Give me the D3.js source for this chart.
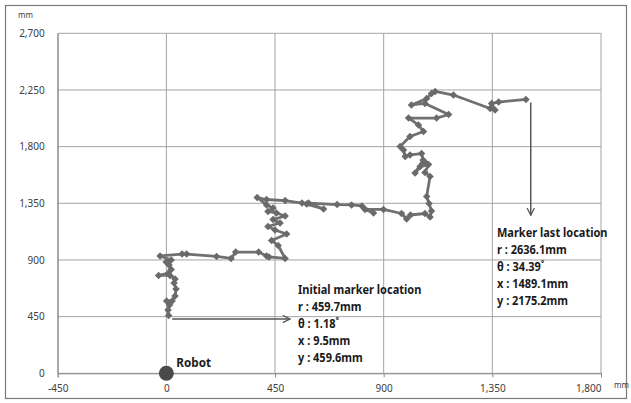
<!DOCTYPE html>
<html>
<head>
<meta charset="utf-8">
<script src="https://cdn.jsdelivr.net/npm/d3@7"></script>
<style>
    body { margin: 0; background: #fff; }
    text { font-family: "Noto Sans", sans-serif; }
</style>
</head>
<body>
<div id="chart-area"></div>
<script>
// marker path (mm)
const pathX = [9.5, 7, 13, 1, 24, 36, 40, 32, 36, 15, -32, 7, 20, 11, -1, 20, -26, 65, 84, 208,
    268, 287, 382, 415, 425, 492, 463, 436, 498, 450, 421, 471, 442, 492, 456, 421, 442, 415, 376, 415,
    492, 562, 581, 651, 589, 707, 767, 810, 858, 823, 899, 974, 995, 1011, 1071, 1092, 1098, 1088, 1078, 1092,
    1071, 1086, 1051, 1071, 1030, 1063, 1057, 1009, 989, 982, 968, 1009, 1065, 1044, 1003, 1119, 1169, 1071, 1015, 1078,
    1098, 1113, 1189, 1341, 1361, 1347, 1376, 1489.1];
const pathY = [459.6, 503, 542, 574, 574, 614, 669, 717, 749, 777, 777, 793, 824, 860, 884, 900, 932, 947, 947, 928,
    912, 963, 963, 932, 924, 912, 1015, 1055, 1106, 1138, 1166, 1194, 1221, 1249, 1273, 1285, 1313, 1337, 1396, 1380,
    1372, 1352, 1344, 1305, 1352, 1340, 1337, 1329, 1273, 1301, 1301, 1269, 1225, 1257, 1269, 1241, 1289, 1348, 1404, 1563,
    1595, 1658, 1642, 1678, 1591, 1694, 1745, 1734, 1722, 1773, 1801, 1880, 1920, 1972, 2027, 2027, 2055, 2143, 2131, 2182,
    2222, 2238, 2210, 2103, 2091, 2143, 2154, 2175.2];

const xTicks = [-450, 0, 450, 900, 1350, 1800];
const yTicks = [0, 450, 900, 1350, 1800, 2250, 2700];

const startLabel = ["Initial marker location", "r : 459.7mm", "θ : 1.18˚", "x : 9.5mm", "y : 459.6mm"];
const endLabel = ["Marker last location", "r : 2636.1mm", "θ : 34.39˚", "x : 1489.1mm", "y : 2175.2mm"];

// arrows: [x1, y1, x2, y2] in mm
const startArrow = [24, 431, 512, 431];
const endArrow = [1509, 2150, 1509, 1255];

// plain hyphen for negatives, like the original
const fmt = d => d3.format(",")(d).replace("−", "-");

const width = 631, height = 403;
const plot = { left: 57.7, right: 601, top: 33.3, bottom: 373.3 };

const svg = d3.select("#chart-area")
    .append("svg")
    .attr("width", width)
    .attr("height", height);

// outer frame
svg.append("rect")
    .attr("x", 5.5).attr("y", 5.5)
    .attr("width", 621).attr("height", 393)
    .style("fill", "none")
    .style("stroke", "#7a7a7a")
    .style("stroke-width", 1.2);

const xScale = d3.scaleLinear().domain([-450, 1800]).range([plot.left, plot.right]);
const yScale = d3.scaleLinear().domain([0, 2700]).range([plot.bottom, plot.top]);

// gridlines
svg.append("g")
    .selectAll("line")
    .data(xTicks)
    .enter()
    .append("line")
    .attr("x1", d => xScale(d)).attr("x2", d => xScale(d))
    .attr("y1", plot.top).attr("y2", plot.bottom)
    .style("stroke", "#a3a3a3");
svg.append("g")
    .selectAll("line")
    .data(yTicks)
    .enter()
    .append("line")
    .attr("x1", plot.left).attr("x2", plot.right)
    .attr("y1", d => yScale(d)).attr("y2", d => yScale(d))
    .style("stroke", "#a3a3a3");

// x axis
let xAxis = svg.append("g")
    .attr("transform", "translate(0," + plot.bottom + ")")
    .call(d3.axisBottom(xScale).tickValues(xTicks).tickFormat(fmt).tickSize(4).tickPadding(8));
xAxis.select(".domain").style("stroke", "#8a8a8a");
xAxis.selectAll(".tick line").style("stroke", "#8a8a8a");
xAxis.selectAll("text")
    .style("font-size", "10px")
    .style("fill", "#404040")
    .attr("text-anchor", d => d === 1800 ? "end" : "middle");

// y axis
let yAxis = svg.append("g")
    .attr("transform", "translate(" + plot.left + ",0)")
    .call(d3.axisLeft(yScale).tickValues(yTicks).tickFormat(fmt).tickSize(0).tickPadding(13));
yAxis.select(".domain").style("stroke", "#8a8a8a");
yAxis.selectAll("text")
    .style("font-size", "10px")
    .style("fill", "#404040");

// unit labels
svg.append("text")
    .attr("x", 18).attr("y", 18)
    .style("font-size", "8px")
    .style("fill", "#404040")
    .text("mm");
svg.append("text")
    .attr("x", 614).attr("y", 388)
    .style("font-size", "8px")
    .style("fill", "#404040")
    .text("mm");

// marker path
const points = pathX.map((x, i) => ({ x: x, y: pathY[i] }));
const line = d3.line()
    .x(d => xScale(d.x))
    .y(d => yScale(d.y));
svg.append("path")
    .datum(points)
    .attr("d", line)
    .style("fill", "none")
    .style("stroke", "#707070")
    .style("stroke-width", 2.8)
    .style("stroke-linejoin", "round");

const diamond = d3.symbol().type(d3.symbolSquare).size(28);
svg.append("g")
    .selectAll("path")
    .data(points)
    .enter()
    .append("path")
    .attr("d", diamond)
    .attr("transform", d => "translate(" + xScale(d.x) + "," + yScale(d.y) + ") rotate(45)")
    .style("fill", "#6a6a6a");

// arrows
svg.append("defs")
    .append("marker")
    .attr("id", "arrowhead")
    .attr("viewBox", "0 0 10 10")
    .attr("refX", 9).attr("refY", 5)
    .attr("markerWidth", 6).attr("markerHeight", 6)
    .attr("orient", "auto")
    .append("path")
    .attr("d", "M1,1 L9,5 L1,9")
    .style("fill", "none")
    .style("stroke", "#555")
    .style("stroke-width", 1.4);

[startArrow, endArrow].forEach(a => {
    svg.append("line")
        .attr("x1", xScale(a[0])).attr("y1", yScale(a[1]))
        .attr("x2", xScale(a[2])).attr("y2", yScale(a[3]))
        .style("stroke", "#555")
        .style("stroke-width", 1.5)
        .attr("marker-end", "url(#arrowhead)");
});

// robot
svg.append("circle")
    .attr("cx", xScale(0)).attr("cy", yScale(0))
    .attr("r", 7.5)
    .style("fill", "#4a4a4a");
svg.append("text")
    .attr("transform", "translate(" + (xScale(0) + 10) + "," + (yScale(0) - 6) + ") scale(0.9,1)")
    .style("font-size", "13px")
    .style("font-weight", "bold")
    .style("fill", "#1a1a1a")
    .text("Robot");

// location labels, slightly narrowed like the original face
const addLabel = (lines, x, y) => {
    svg.append("g")
        .attr("transform", "translate(" + x + "," + y + ") scale(0.88,1)")
        .selectAll("text")
        .data(lines)
        .enter()
        .append("text")
        .attr("x", 0)
        .attr("y", (d, i) => i * 17)
        .style("font-size", "12.5px")
        .style("font-weight", "bold")
        .style("fill", "#1a1a1a")
        .text(d => d);
};
addLabel(startLabel, 298, 294);
addLabel(endLabel, 497, 237);
</script>
</body>
</html>
